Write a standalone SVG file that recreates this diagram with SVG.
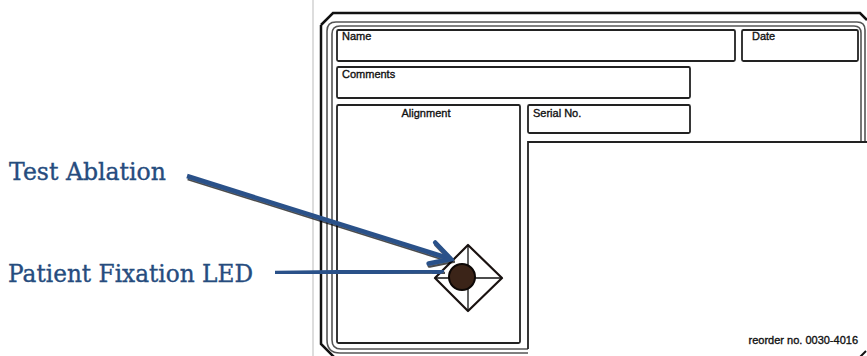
<svg xmlns="http://www.w3.org/2000/svg" width="867" height="356" viewBox="0 0 867 356">
<defs>
<style>
.frame{fill:none;stroke:#111;stroke-width:2.5}
.dbl{fill:none;stroke:#555;stroke-width:1.6}
.box{fill:none;stroke:#222;stroke-width:1.8}
.ft{font-family:"Liberation Sans",Arial,sans-serif;font-size:11px;fill:#111;stroke:#111;stroke-width:0.35}
.lbl{font-family:"DejaVu Serif","Liberation Serif",serif;font-size:23.5px;fill:#264C7E;stroke:#264C7E;stroke-width:0.35}
.arr{fill:none;stroke:#2A5189;stroke-width:4.5;filter:url(#sh)}
</style>
<filter id="sh" x="-10%" y="-50%" width="120%" height="200%">
<feDropShadow dx="1" dy="2" stdDeviation="0.7" flood-color="#000" flood-opacity="0.7"/>
</filter>
<marker id="ah" markerUnits="userSpaceOnUse" markerWidth="28" markerHeight="28" viewBox="0 0 28 28" refX="25" refY="14" orient="auto">
<path d="M5,3 L25,14 L5,25" fill="none" stroke="#2A5189" stroke-width="4.5" stroke-linecap="round" stroke-linejoin="miter"/>
</marker>
</defs>
<g id="form">
<line x1="313" y1="0" x2="313" y2="356" stroke="#bbb" stroke-width="1"/>
<path class="frame" d="M321,25 L333,13 L860,13 L867,20 M321,25 L321,344 L334,357"/>
<path class="dbl" d="M327,340 L327,31 Q327,22 336,22 L857,22 Q865,22 865,30 L865,142 M332,340 L332,34 Q332,26 340,26 L854,26 Q861,26 861,33 L861,142"/>
<path class="dbl" d="M327,340 Q327,353 340,353 L528,353 M332,340 Q332,349 341,349 L528,349"/>
<path d="M860,357 L866,351" stroke="#111" stroke-width="2"/>
</g>
<g id="name"><rect class="box" x="337" y="30" width="398" height="31" rx="1.5"/><text class="ft" x="342" y="40">Name</text></g>
<g id="date"><rect class="box" x="742" y="30" width="116" height="31" rx="1.5"/><text class="ft" x="752" y="40">Date</text></g>
<g id="comments"><rect class="box" x="337" y="67" width="353" height="31" rx="1.5"/><text class="ft" x="342" y="78">Comments</text></g>
<g id="alignment"><rect class="box" x="337" y="105" width="183" height="238" rx="1.5"/><text class="ft" x="426" y="117" text-anchor="middle">Alignment</text></g>
<g id="serial"><rect class="box" x="528" y="105" width="162" height="28" rx="1.5"/><text class="ft" x="533" y="117">Serial No.</text></g>
<g id="area"><path class="box" d="M528,349 L528,142 L867,142"/><text class="ft" x="858" y="344" text-anchor="end" font-size="11.5">reorder no. 0030-4016</text></g>
<g id="led">
<path d="M468,245 L502,278 L468,311 L435,278 Z" fill="#fff" stroke="#1a1210" stroke-width="2.2" stroke-linejoin="round"/>
<line x1="468" y1="245" x2="468" y2="311" stroke="#111" stroke-width="1.3"/>
<line x1="435" y1="278" x2="502" y2="278" stroke="#111" stroke-width="1.3"/>
<circle cx="462" cy="277" r="13" fill="#3b2418" stroke="#0d0806" stroke-width="2"/>
</g>
<g id="label-test"><text class="lbl" x="9" y="180" textLength="157" lengthAdjust="spacingAndGlyphs">Test Ablation</text></g>
<g id="label-led"><text class="lbl" x="8" y="282" textLength="245" lengthAdjust="spacingAndGlyphs">Patient Fixation LED</text></g>
<g id="connectors">
<line class="arr" x1="187" y1="176" x2="451" y2="259" marker-end="url(#ah)"/>
<line class="arr" x1="275" y1="273" x2="441" y2="271" marker-end="url(#ah)"/>
</g>
</svg>
